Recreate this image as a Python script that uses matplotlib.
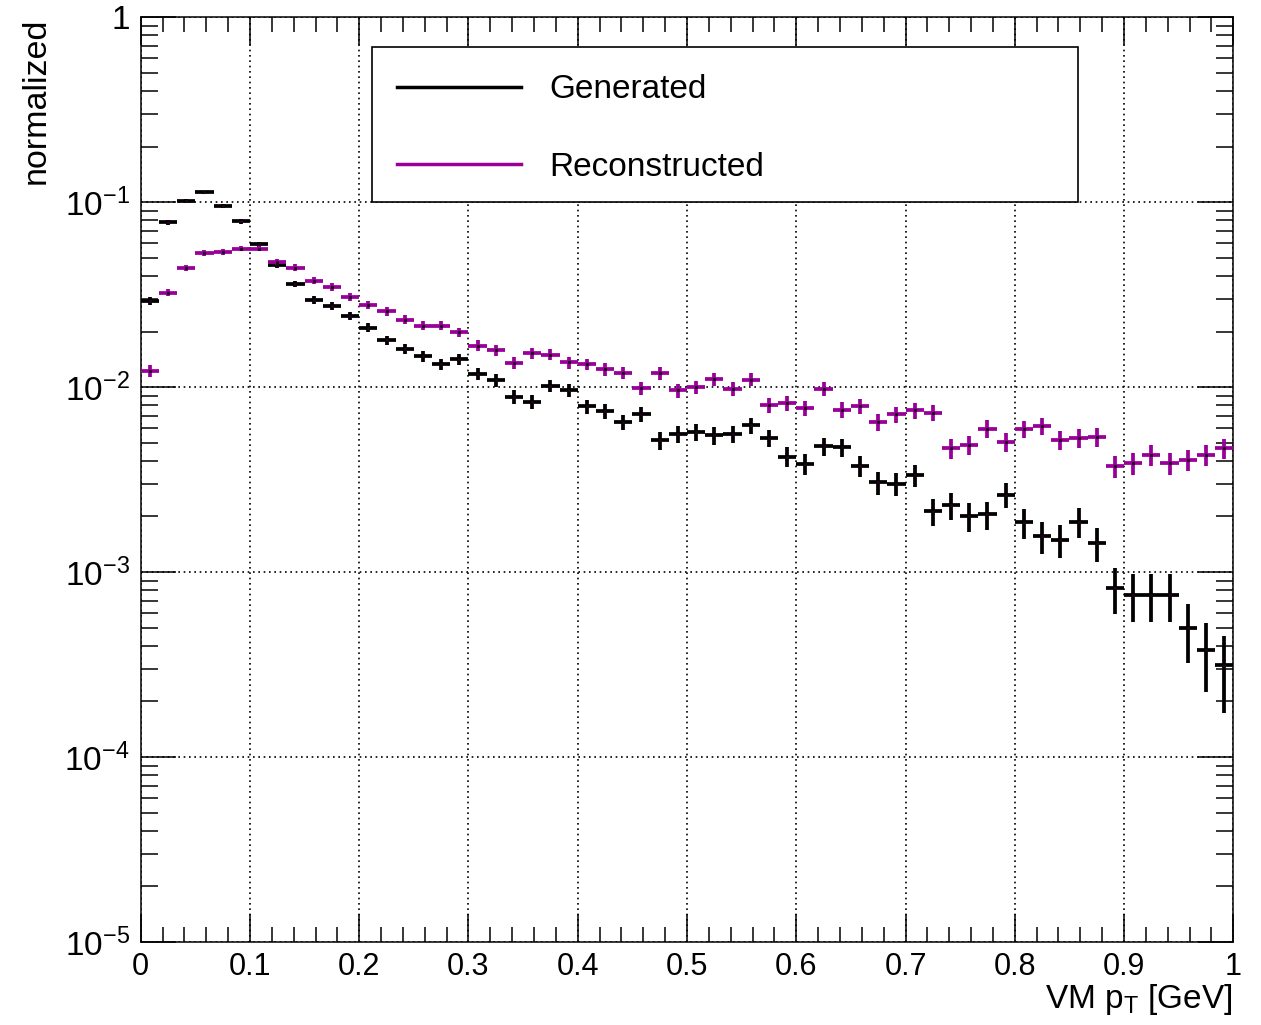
"""
VM pT spectra, generated vs reconstructed, ROOT-like style.
"""

import matplotlib
matplotlib.use('Agg')
import matplotlib.pyplot as plt
import numpy as np
from matplotlib.lines import Line2D
from matplotlib.patches import Rectangle
from matplotlib.ticker import FixedLocator, FixedFormatter, NullFormatter

plt.rcParams['font.family'] = ['Liberation Sans', 'DejaVu Sans']
plt.rcParams['mathtext.fontset'] = 'custom'
plt.rcParams['mathtext.rm'] = 'Liberation Sans'
plt.rcParams['mathtext.it'] = 'Liberation Sans:italic'
plt.rcParams['mathtext.default'] = 'regular'

# 60 bins on [0, 1] GeV
bin_edges = np.linspace(0.0, 1.0, 61)

gen_vals = [0.0292, 0.0778, 0.102, 0.113, 0.095, 0.0787, 0.0594, 0.0459, 0.0362, 0.0296,
            0.0276, 0.0243, 0.0210, 0.0179, 0.0161, 0.0147, 0.0133, 0.0142, 0.0118, 0.0109,
            0.0089, 0.00831, 0.0102, 0.00962, 0.00787, 0.00739, 0.00648, 0.00713, 0.00515, 0.00558,
            0.00570, 0.00548, 0.00561, 0.00622, 0.00531, 0.00421, 0.00386, 0.00479, 0.00473, 0.00376,
            0.00306, 0.00301, 0.00336, 0.00213, 0.00230, 0.00200, 0.00205, 0.00262, 0.00186, 0.00156,
            0.00150, 0.00187, 0.00144, 0.000822, 0.000756, 0.000756, 0.000756, 0.000499, 0.000378,
            0.000313]

rec_vals = [0.01228, 0.0325, 0.0441, 0.0529, 0.0539, 0.0562, 0.0562, 0.0477, 0.0443, 0.0376,
            0.0348, 0.0307, 0.0278, 0.0257, 0.0232, 0.0215, 0.0215, 0.0198, 0.0168, 0.0159,
            0.0135, 0.0153, 0.0150, 0.0136, 0.0133, 0.0125, 0.0120, 0.00987, 0.0119, 0.00962,
            0.0100, 0.0111, 0.0098, 0.0110, 0.00803, 0.00817, 0.00771, 0.00977, 0.00755, 0.00787,
            0.00646, 0.00713, 0.00750, 0.00728, 0.00469, 0.00487, 0.00597, 0.00506, 0.00594, 0.00617,
            0.00520, 0.00529, 0.00538, 0.00373, 0.00389, 0.00431, 0.00389, 0.00406, 0.00431, 0.00469]

# effective number of entries behind each normalized histogram (sets stat. errors)
gen_entries = 16000
rec_entries = 14000

labels = ['Generated', 'Reconstructed']
colors = ['black', '#990099']

y_ticks = [1e-5, 1e-4, 1e-3, 1e-2, 1e-1, 1]
y_ticklabels = ['$10^{-5}$', '$10^{-4}$', '$10^{-3}$', '$10^{-2}$', '$10^{-1}$', '1']
x_ticks = [0, 0.1, 0.2, 0.3, 0.4, 0.5, 0.6, 0.7, 0.8, 0.9, 1]
x_ticklabels = ['0', '0.1', '0.2', '0.3', '0.4', '0.5', '0.6', '0.7', '0.8', '0.9', '1']

W, H = 1261, 1025
fig = plt.figure(figsize=(W / 100, H / 100), dpi=100)
ax = fig.add_axes([140.7 / W, 1 - 942 / H, 1092.6 / W, 924.7 / H])

centers = 0.5 * (bin_edges[1:] + bin_edges[:-1])
half_w = 0.5 * np.diff(bin_edges)

for vals, entries, col in [(gen_vals, gen_entries, colors[0]),
                           (rec_vals, rec_entries, colors[1])]:
    vals = np.array(vals)
    err = np.sqrt(vals / entries)
    ax.errorbar(centers, vals, xerr=half_w, yerr=err, fmt='none',
                ecolor=col, elinewidth=2.7, capsize=0, zorder=3)
    # tiny dark dot marker at bin centre, as ROOT draws it
    ax.plot(centers, vals, linestyle='none', marker='s', markersize=1.2,
            color='#220022', zorder=4)

ax.set_yscale('log')
ax.set_xlim(0, 1)
ax.set_ylim(1e-5, 1)

ax.yaxis.set_major_locator(FixedLocator(y_ticks))
ax.yaxis.set_major_formatter(FixedFormatter(y_ticklabels))
minors = [m * 10.0 ** e for e in range(-5, 0) for m in range(2, 10)]
ax.yaxis.set_minor_locator(FixedLocator(minors))
ax.yaxis.set_minor_formatter(NullFormatter())

ax.xaxis.set_major_locator(FixedLocator(x_ticks))
ax.xaxis.set_major_formatter(FixedFormatter(x_ticklabels))
ax.xaxis.set_minor_locator(FixedLocator(np.arange(0.02, 1.0, 0.02)))

ax.tick_params(axis='both', which='both', direction='in', top=True, right=True,
               width=1.1, color='black')
ax.tick_params(axis='x', which='major', length=20, pad=7, labelsize=22)
ax.tick_params(axis='x', which='minor', length=10.5)
ax.tick_params(axis='y', which='major', length=25, pad=8, labelsize=24)
ax.tick_params(axis='y', which='minor', length=12.5)

for sp in ax.spines.values():
    sp.set_linewidth(1.1)
    sp.set_color('black')

ax.grid(True, which='major', color='black', linestyle=(0, (1, 2.2)), linewidth=1.2)
ax.set_axisbelow(True)

# legend box
box = Rectangle((0.2117, 0.8003), 0.8579 - 0.2117, 0.9679 - 0.8003,
                transform=ax.transAxes, facecolor='white', edgecolor='black',
                linewidth=1.2, zorder=5)
ax.add_patch(box)
for lab, col, yy in zip(labels, colors, [0.9249, 0.8413]):
    ax.add_line(Line2D([0.2346, 0.3481], [yy, yy], transform=ax.transAxes,
                       color=col, linewidth=2.5, zorder=6))
    ax.text(0.3737, yy - 0.0032, lab, transform=ax.transAxes, fontsize=24,
            ha='left', va='center', zorder=6)

fig.text(21 / W, 1 - 17.5 / H, 'normalized', rotation=90, fontsize=24.5,
         ha='left', va='top')
fig.text(1233 / W, 1 - 1008 / H, r'VM p$_{T}$ [GeV]', fontsize=24,
         ha='right', va='baseline')

fig.savefig('out.png', dpi=100)
